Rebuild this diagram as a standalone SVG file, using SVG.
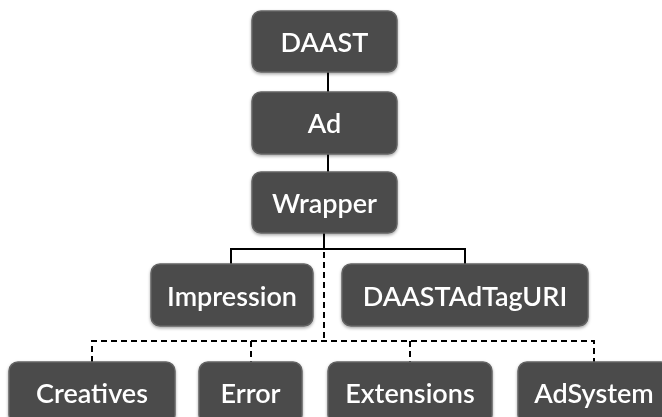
<svg xmlns="http://www.w3.org/2000/svg" width="662" height="417" viewBox="0 0 662 417">
<defs>
<style>
.box{fill:#4b4b4b;stroke:#646464;stroke-width:1.5}
.t{fill:#ffffff;font-family:Lato,"Open Sans","DejaVu Sans",sans-serif;font-weight:600;font-size:27px;text-anchor:middle}
.s{fill:none;stroke:#000;stroke-width:2}
.d{fill:none;stroke:#000;stroke-width:2;stroke-dasharray:6,4}
</style>
<filter id="sh" x="-10%" y="-10%" width="120%" height="130%"><feDropShadow dx="0" dy="1.5" stdDeviation="1.5" flood-color="#000" flood-opacity="0.35"/></filter>
</defs>
<rect width="662" height="417" fill="#ffffff"/>
<g id="connectors">
<line class="s" x1="328" y1="72" x2="328" y2="92"/>
<line class="s" x1="328" y1="154" x2="328" y2="172"/>
<line class="s" x1="324" y1="233" x2="324" y2="249"/>
<polyline class="s" points="231,264 231,249 465,249 465,264"/>
<line class="d" x1="324" y1="252" x2="324" y2="341"/>
<polyline class="d" points="92,362 92,341 594,341 594,362"/>
<line class="d" x1="251" y1="341" x2="251" y2="362"/>
<line class="d" x1="410" y1="341" x2="410" y2="362"/>
</g>
<g id="daast" filter="url(#sh)"><rect class="box" x="252" y="11" width="145" height="61" rx="9"/><text class="t" x="324.5" y="52">DAAST</text></g>
<g id="ad" filter="url(#sh)"><rect class="box" x="252" y="92" width="145" height="62" rx="9"/><text class="t" x="324.5" y="133">Ad</text></g>
<g id="wrapper" filter="url(#sh)"><rect class="box" x="252" y="172" width="145" height="61" rx="9"/><text class="t" x="324.5" y="213">Wrapper</text></g>
<g id="impression" filter="url(#sh)"><rect class="box" x="151" y="264" width="162" height="62" rx="9"/><text class="t" x="232" y="305.5">Impression</text></g>
<g id="daastadtaguri" filter="url(#sh)"><rect class="box" x="342" y="264" width="246" height="62" rx="9"/><text class="t" x="465" y="305.5">DAASTAdTagURI</text></g>
<g id="creatives" filter="url(#sh)"><rect class="box" x="9" y="362" width="166" height="62" rx="9"/><text class="t" x="92" y="403">Creatives</text></g>
<g id="error" filter="url(#sh)"><rect class="box" x="199" y="362" width="103" height="62" rx="9"/><text class="t" x="250.5" y="403">Error</text></g>
<g id="extensions" filter="url(#sh)"><rect class="box" x="328" y="362" width="164" height="62" rx="9"/><text class="t" x="410" y="403">Extensions</text></g>
<g id="adsystem" filter="url(#sh)"><rect class="box" x="518" y="362" width="152" height="62" rx="9"/><text class="t" x="594" y="403">AdSystem</text></g>
</svg>
